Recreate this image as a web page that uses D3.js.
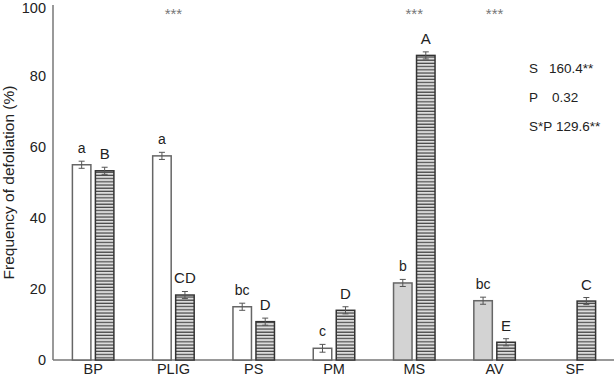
<!DOCTYPE html>
<html>
<head>
<meta charset="utf-8">
<script src="https://cdn.jsdelivr.net/npm/d3@7"></script>
<style>
  body { margin: 0; background: #fff; }
  text { font-family: "Liberation Sans", Arial, sans-serif; fill: #222; }
</style>
</head>
<body>
<script>
// categories and series
const sites = ["BP", "PLIG", "PS", "PM", "MS", "AV", "SF"];
// first bar of each group (white or grey); null = no bar
const firstVals = [55.0, 57.5, 15.0, 3.3, 21.7, 16.7, null];
const firstErr  = [1.0, 1.0, 1.0, 1.1, 1.0, 1.0, null];
const firstKind = ["white", "white", "white", "white", "grey", "grey", null];
const firstLetters = ["a", "a", "bc", "c", "b", "bc", ""];
// hatched bar of each group
const hatchVals = [53.3, 18.3, 10.8, 14.0, 85.8, 5.0, 16.6];
const hatchErr  = [1.0, 1.0, 1.0, 1.0, 1.0, 1.0, 1.0];
const hatchLetters = ["B", "CD", "D", "D", "A", "E", "C"];
const starSites = ["PLIG", "MS", "AV"];
const yTicks = [0, 20, 40, 60, 80, 100];
const statNames = ["S", "P", "S*P"];
const statValues = ["160.4**", "0.32", "129.6**"];

const width = 616, height = 377;
const svg = d3.select("body").append("svg")
  .attr("width", width).attr("height", height);

const defs = svg.append("defs");
const pat = defs.append("pattern")
  .attr("id", "hatch").attr("patternUnits", "userSpaceOnUse")
  .attr("width", 6).attr("height", 3.2);
pat.append("rect").attr("width", 6).attr("height", 3.2).attr("fill", "#dcdcdc");
pat.append("rect").attr("y", 2).attr("width", 6).attr("height", 1.2).attr("fill", "#444");

const x = d3.scaleBand().domain(sites).range([53, 615]);
const y = d3.scaleLinear().domain([0, 100]).range([360, 5]);
const bw = 18.5, gap = 4.5;

// axes
svg.append("line").attr("x1", 53).attr("x2", 53).attr("y1", y(100)).attr("y2", y(0))
  .attr("stroke", "#777").attr("stroke-width", 1.5);
svg.append("line").attr("x1", 53).attr("x2", 614).attr("y1", y(0)).attr("y2", y(0))
  .attr("stroke", "#777").attr("stroke-width", 1.5);
svg.selectAll(".yt").data(yTicks).join("text")
  .attr("x", 46).attr("y", d => Math.max(y(d) + 5, 12.5))
  .attr("text-anchor", "end").attr("font-size", 14.5).text(d => d);
svg.append("text")
  .attr("transform", `translate(14,${y(50)}) rotate(-90)`)
  .attr("text-anchor", "middle").attr("font-size", 15.5)
  .text("Frequency of defoliation (%)");

// x labels
svg.selectAll(".xl").data(sites).join("text")
  .attr("x", d => x(d) + x.bandwidth() / 2).attr("y", 374)
  .attr("text-anchor", "middle").attr("font-size", 14.5).text(d => d);

const cx = s => x(s) + x.bandwidth() / 2;

function errBar(xc, v, e) {
  const g = svg.append("g").attr("stroke", "#555").attr("stroke-width", 1);
  g.append("line").attr("x1", xc).attr("x2", xc).attr("y1", y(v + e)).attr("y2", y(v - e));
  g.append("line").attr("x1", xc - 3).attr("x2", xc + 3).attr("y1", y(v + e)).attr("y2", y(v + e));
  g.append("line").attr("x1", xc - 3).attr("x2", xc + 3).attr("y1", y(v - e)).attr("y2", y(v - e));
}

sites.forEach((s, i) => {
  const c = cx(s);
  if (firstVals[i] != null) {
    const x0 = c - gap / 2 - bw;
    svg.append("rect").attr("x", x0).attr("y", y(firstVals[i]))
      .attr("width", bw).attr("height", y(0) - y(firstVals[i]))
      .attr("fill", firstKind[i] === "grey" ? "#d3d3d3" : "#fff")
      .attr("stroke", "#666").attr("stroke-width", 1.5);
    errBar(x0 + bw / 2, firstVals[i], firstErr[i]);
    svg.append("text").attr("x", x0 + bw / 2).attr("y", y(firstVals[i] + firstErr[i]) - 8)
      .attr("text-anchor", "middle").attr("font-size", 14).text(firstLetters[i]);
  }
  const x1 = c + gap / 2;
  svg.append("rect").attr("x", x1).attr("y", y(hatchVals[i]))
    .attr("width", bw).attr("height", y(0) - y(hatchVals[i]))
    .attr("fill", "url(#hatch)").attr("stroke", "#333").attr("stroke-width", 1.5);
  errBar(x1 + bw / 2, hatchVals[i], hatchErr[i]);
  svg.append("text").attr("x", x1 + bw / 2).attr("y", y(hatchVals[i] + hatchErr[i]) - 8)
    .attr("text-anchor", "middle").attr("font-size", 15).text(hatchLetters[i]);
});

// significance stars
svg.selectAll(".st").data(starSites).join("text")
  .attr("x", d => cx(d)).attr("y", 19)
  .attr("text-anchor", "middle").attr("font-size", 15).style("fill", "#777")
  .text("***");

// stats block
const statX = [549, 552, 556];
statNames.forEach((n, i) => {
  svg.append("text").attr("x", 529).attr("y", 73 + i * 29)
    .attr("font-size", 13.5).text(n);
  svg.append("text").attr("x", statX[i]).attr("y", 73 + i * 29)
    .attr("font-size", 13.5).text(statValues[i]);
});
</script>
</body>
</html>
